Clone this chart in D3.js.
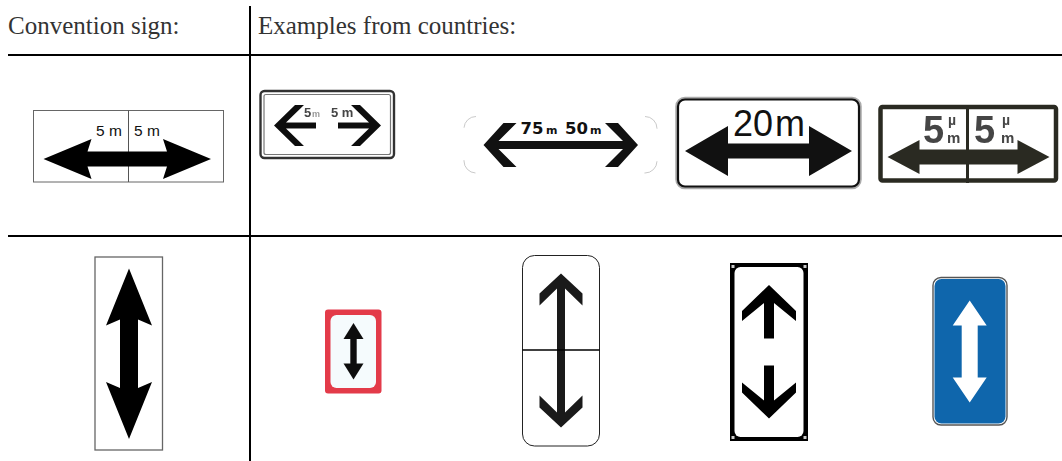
<!DOCTYPE html>
<html>
<head>
<meta charset="utf-8">
<script src="https://cdn.jsdelivr.net/npm/d3@7"></script>
<style>
  html, body { margin: 0; background: #fff; overflow: hidden; }
  svg { display: block; }
  text { font-family: "Liberation Sans", Arial, sans-serif; }
</style>
</head>
<body>
<div id="chart"></div>
<script>
// table content
const headers = ["Convention sign:", "Examples from countries:"];
const hSigns = ["convention", "sign2", "sign3", "sign4", "sign5"];
const vSigns = ["convention", "red", "split", "black", "blue"];
const conventionLabels = ["5 m", "5 m"];
const sign2Labels = ["5", "m", "5 m"];
const sign3Labels = ["75", "m", "50", "m"];
const sign4Labels = ["20", "m"];
const sign5Labels = ["5", "\u00b5", "m"];

const width = 1062, height = 461;
const svg = d3.select("#chart").append("svg")
  .attr("width", width).attr("height", height);

const soft = svg.append("defs").append("filter").attr("id", "soft");
soft.append("feGaussianBlur").attr("stdDeviation", 0.55);
const softer = svg.select("defs").append("filter").attr("id", "softer");
softer.append("feGaussianBlur").attr("stdDeviation", 0.35);

// left edge of each sign in its row
const xTop = d3.scaleOrdinal().domain(hSigns).range([33.5, 260.5, 464, 677, 878.5]);
const xBottom = d3.scaleOrdinal().domain(vSigns).range([95, 325, 522.5, 730, 933]);

const line = d3.line();

// one side of an arrow head, u runs from the tip along the shaft
function headSide(tip, dir, cross, vertical, s, side) {
  const pt = (u, v) => vertical ? [cross + v, tip + dir * u] : [tip + dir * u, cross + v];
  return [pt(0, 0), pt(s.a, side * s.hw), pt(s.b, side * s.hw), pt(s.c, side * s.sw)];
}

function halfArrow(g, tip, end, cross, vertical, s, fill) {
  const dir = end > tip ? 1 : -1;
  const pts = headSide(tip, dir, cross, vertical, s, -1);
  const other = headSide(tip, dir, cross, vertical, s, 1).slice(1).reverse();
  const stop = vertical ? [[cross - s.sw, end], [cross + s.sw, end]] : [[end, cross - s.sw], [end, cross + s.sw]];
  g.append("path").attr("d", line(pts.concat(stop, other)) + "Z").attr("fill", fill);
}

function doubleArrow(g, t0, t1, cross, vertical, s, fill) {
  const pts = headSide(t0, 1, cross, vertical, s, -1)
    .concat(headSide(t1, -1, cross, vertical, s, -1).reverse())
    .concat(headSide(t1, -1, cross, vertical, s, 1).slice(1))
    .concat(headSide(t0, 1, cross, vertical, s, 1).slice(1).reverse());
  g.append("path").attr("d", line(pts) + "Z").attr("fill", fill);
}

function box(g, x0, y0, x1, y1, r, stroke, sw, fill) {
  return g.append("rect").attr("x", x0).attr("y", y0)
    .attr("width", x1 - x0).attr("height", y1 - y0).attr("rx", r)
    .attr("fill", fill || "none").attr("stroke", stroke).attr("stroke-width", sw);
}

function label(g, x, y, str, size, weight, fill, family) {
  const t = g.append("text").attr("x", x).attr("y", y).text(str)
    .attr("font-size", size).attr("font-weight", weight || "normal")
    .attr("fill", fill || "#111");
  if (family) t.style("font-family", family);
  return t;
}

// grid lines
const grid = svg.append("g").attr("stroke", "#000").attr("stroke-width", 2);
grid.append("line").attr("x1", 8).attr("x2", width).attr("y1", 55).attr("y2", 55);
grid.append("line").attr("x1", 8).attr("x2", width).attr("y1", 236).attr("y2", 236);
grid.append("line").attr("x1", 250).attr("x2", 250).attr("y1", 6).attr("y2", height);

svg.selectAll(".head").data(headers).join("text")
  .attr("class", "head")
  .attr("x", (d, i) => [8, 258][i]).attr("y", 34)
  .attr("font-size", 25).attr("fill", "#333")
  .style("font-family", '"Liberation Serif", serif')
  .text(d => d);

// --- top row ---
let g = svg.append("g");
let x = xTop("convention");
box(g, x, 110.5, 223.5, 182, 0, "#666", 1);
g.append("line").attr("x1", 128.5).attr("x2", 128.5).attr("y1", 110.5).attr("y2", 182).attr("stroke", "#555");
doubleArrow(g, 43.5, 211, 159, false, { a: 48, b: 48, c: 44, hw: 20, sw: 7.5 }, "#000");
label(g, 96, 136, conventionLabels[0], 15.5);
label(g, 134, 136, conventionLabels[1], 15.5);

g = svg.append("g").attr("filter", "url(#soft)");
x = xTop("sign2");
box(g, x, 91, 394, 158, 4, "#333", 2.4);
box(g, x + 3.5, 94.5, 390.5, 154.5, 2, "#777", 1.2);
halfArrow(g, 274, 316, 125.5, false, { a: 21, b: 30, c: 12, hw: 20.5, sw: 3 }, "#111");
halfArrow(g, 381, 338, 125.5, false, { a: 21, b: 30, c: 12, hw: 20.5, sw: 3 }, "#111");
label(g, 304, 117, sign2Labels[0], 13, "bold", "#444");
label(g, 312, 117, sign2Labels[1], 9, "bold", "#999");
label(g, 331, 117, sign2Labels[2], 13, "bold", "#444");

g = svg.append("g");
x = xTop("sign3");
// only the faint corner marks of this sign's outline survive
box(g, x, 116.5, 657, 173, 12, "#bbb", 0.8)
  .attr("stroke-dasharray", "0 169 19 32.5 19 169 19 32.5 19 0");
const bold = '"DejaVu Sans", sans-serif';
doubleArrow(g, 483.5, 638, 145, false, { a: 20, b: 33, c: 15, hw: 22, sw: 4 }, "#111");
label(g, 520.5, 134, sign3Labels[0], 16.5, "bold", "#111", bold);
label(g, 546, 134, sign3Labels[1], 11, "bold", "#111", bold);
label(g, 565, 134, sign3Labels[2], 16.5, "bold", "#111", bold);
label(g, 590, 134, sign3Labels[3], 11, "bold", "#111", bold);

g = svg.append("g");
x = xTop("sign4");
box(g, x, 98.5, 860, 187.5, 8, "#aaa", 3.5).attr("filter", "url(#soft)");
box(g, x + 1, 99.5, 859, 186.5, 7, "#111", 2.2, "#fff");
doubleArrow(g, 685, 852, 151, false, { a: 43, b: 43, c: 43, hw: 25, sw: 7.5 }, "#111");
label(g, 733, 136, sign4Labels[0], 36, "normal", "#111");
label(g, 775, 136, sign4Labels[1], 36, "normal", "#111");

g = svg.append("g").attr("filter", "url(#soft)");
x = xTop("sign5");
box(g, x + 2, 107, 1056, 180.5, 2, "#2c2c22", 4.5, "#fff");
g.append("line").attr("x1", 967.5).attr("x2", 967.5).attr("y1", 105).attr("y2", 183)
  .attr("stroke", "#2c2c22").attr("stroke-width", 3);
doubleArrow(g, 887.5, 1049.5, 157, false, { a: 32, b: 32, c: 32, hw: 17, sw: 7.5 }, "#2c2c22");
[[923, 948], [974, 1002]].forEach(([a, b]) => {
  label(g, a, 143, sign5Labels[0], 38, "bold", "#444");
  label(g, b, 125, sign5Labels[1], 14, "bold", "#444");
  label(g, b - 1, 143, sign5Labels[2], 15, "bold", "#444");
});

// --- bottom row ---
g = svg.append("g");
x = xBottom("convention");
box(g, x, 257, 162.5, 450, 0, "#666", 1.3);
doubleArrow(g, 268.5, 439, 129, true, { a: 57, b: 57, c: 51, hw: 23, sw: 9 }, "#000");

g = svg.append("g").attr("filter", "url(#softer)");
x = xBottom("red");
g.append("rect").attr("x", x).attr("y", 309.5).attr("width", 56.5).attr("height", 84).attr("rx", 3).attr("fill", "#e33b4a");
g.append("rect").attr("x", x + 5.5).attr("y", 315).attr("width", 45.5).attr("height", 73).attr("rx", 6).attr("fill", "#f5fbfd");
doubleArrow(g, 323, 379.5, 353.5, true, { a: 16, b: 16, c: 16, hw: 10, sw: 3.2 }, "#111");

g = svg.append("g");
x = xBottom("split");
box(g, x, 255.5, 599.5, 446, 12, "#222", 1);
doubleArrow(g, 273.5, 427.5, 561, true, { a: 20, b: 32, c: 15, hw: 21.5, sw: 4 }, "#1a1a1a");
g.append("line").attr("x1", 522.5).attr("x2", 599.5).attr("y1", 350).attr("y2", 350)
  .attr("stroke", "#000").attr("stroke-width", 1.5);

g = svg.append("g");
x = xBottom("black");
g.append("rect").attr("x", x).attr("y", 263).attr("width", 78).attr("height", 178).attr("fill", "#000");
g.append("rect").attr("x", x + 4.5).attr("y", 267).attr("width", 69).attr("height", 170).attr("rx", 6).attr("fill", "#fff");
// small light squares left in the four corners of the frame
g.selectAll(".cornerMark").data([[1.5, 265], [73.5, 265], [1.5, 436], [73.5, 436]]).join("rect")
  .attr("class", "cornerMark")
  .attr("x", d => x + d[0]).attr("y", d => d[1])
  .attr("width", 3).attr("height", 3).attr("fill", "#ccc");
halfArrow(g, 285, 338.5, 769, true, { a: 26, b: 36, c: 18, hw: 27, sw: 5 }, "#000");
halfArrow(g, 418.5, 365.5, 769, true, { a: 26, b: 36, c: 18, hw: 27, sw: 5 }, "#000");

g = svg.append("g");
x = xBottom("blue");
box(g, x, 277.5, 1007, 425, 8, "#555", 1.4, "#fff");
g.append("rect").attr("x", 934.5).attr("y", 279).attr("width", 71).attr("height", 144.5).attr("rx", 7).attr("fill", "#0f66ac");
doubleArrow(g, 300.5, 402.5, 969.7, true, { a: 25, b: 25, c: 25, hw: 17, sw: 8 }, "#fff");
</script>
</body>
</html>
